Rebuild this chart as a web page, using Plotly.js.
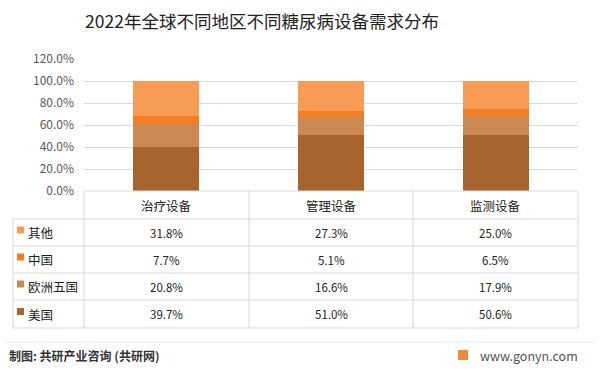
<!DOCTYPE html>
<html>
<head>
<meta charset="utf-8">
<script src="https://cdn.plot.ly/plotly-3.0.1.min.js"></script>
<style>html,body{margin:0;padding:0;background:#fff;}#chart{width:600px;height:374px;}</style>
</head>
<body>
<div id="chart"></div>
<script>
const categories = ['治疗设备', '管理设备', '监测设备'];
const seriesNames = ['美国', '欧洲五国', '中国', '其他'];
const usa = [39.7, 51.0, 50.6];
const europe5 = [20.8, 16.6, 17.9];
const china = [7.7, 5.1, 6.5];
const others = [31.8, 27.3, 25.0];
const seriesValues = [usa, europe5, china, others];
const seriesColors = ['#A8642E', '#CC8A52', '#F47E24', '#F89C55'];
const yTickVals = [0, 0.2, 0.4, 0.6, 0.8, 1.0, 1.2];

const W = 600, H = 374;
const L = 84, R = 578, T = 59, B = 191;
const font = '"Noto Sans CJK SC", "Noto Sans", sans-serif';
const px = x => (x - L) / (R - L);
const py = y => (B - y) / (B - T);

const traces = seriesValues.map((vals, i) => ({
  type: 'bar',
  name: seriesNames[i],
  x: categories,
  y: vals.map(v => v / 100),
  marker: {color: seriesColors[i]},
  width: 0.4,
  hoverinfo: 'skip'
}));

const lineColor = '#D9D9D9';
const shapes = [];
const annotations = [];
function line(x0, y0, x1, y1, color) {
  shapes.push({type: 'line', xref: 'paper', yref: 'paper', x0: px(x0), y0: py(y0), x1: px(x1), y1: py(y1),
    line: {color: color || lineColor, width: 1}});
}
const colEdges = [L, 249, 413, R];
const rowEdges = [191, 219, 246, 273, 300, 328];
const tableLeft = 13;
line(L, rowEdges[0], R, rowEdges[0]);
for (let r = 1; r < rowEdges.length; r++) line(tableLeft, rowEdges[r], R, rowEdges[r]);
line(tableLeft, rowEdges[1], tableLeft, rowEdges[5]);
colEdges.forEach(x => line(x, rowEdges[0], x, rowEdges[5]));

categories.forEach((c, i) => {
  annotations.push({xref: 'paper', yref: 'paper', x: px((colEdges[i] + colEdges[i + 1]) / 2), y: py((rowEdges[0] + rowEdges[1]) / 2),
    text: c, showarrow: false, font: {family: font, size: 12.5, color: '#222'}, xanchor: 'center', yanchor: 'middle'});
});
const rowOrder = [3, 2, 1, 0];
rowOrder.forEach((s, r) => {
  const yc = (rowEdges[r + 1] + rowEdges[r + 2]) / 2;
  shapes.push({type: 'rect', xref: 'paper', yref: 'paper', x0: px(17), x1: px(24), y0: py(yc - 6), y1: py(yc + 1),
    fillcolor: seriesColors[s], line: {width: 0}});
  annotations.push({xref: 'paper', yref: 'paper', x: px(26), y: py(yc), text: seriesNames[s], showarrow: false,
    font: {family: font, size: 12.5, color: '#222'}, xanchor: 'left', yanchor: 'middle'});
  seriesValues[s].forEach((v, i) => {
    annotations.push({xref: 'paper', yref: 'paper', x: px((colEdges[i] + colEdges[i + 1]) / 2), y: py(yc),
      text: v.toFixed(1) + '%', showarrow: false, font: {family: font, size: 11.5, color: '#222'}, xanchor: 'center', yanchor: 'middle'});
  });
});

line(6, 342, 594, 342, '#E6E6E6');
annotations.push({xref: 'paper', yref: 'paper', x: px(7), y: py(355), text: '<b>制图: 共研产业咨询 (共研网)</b>', showarrow: false,
  font: {family: font, size: 12, color: '#333'}, xanchor: 'left', yanchor: 'middle'});
shapes.push({type: 'rect', xref: 'paper', yref: 'paper', x0: px(458), x1: px(468), y0: py(360), y1: py(350),
  fillcolor: '#F08A3C', line: {width: 0}});
annotations.push({xref: 'paper', yref: 'paper', x: px(478), y: py(355), text: 'www.gonyn.com', showarrow: false,
  font: {family: font, size: 12.5, color: '#555'}, xanchor: 'left', yanchor: 'middle'});

const layout = {
  width: W, height: H,
  margin: {l: L, r: W - R, t: T, b: H - B, pad: 0},
  paper_bgcolor: '#fff', plot_bgcolor: '#fff',
  barmode: 'stack',
  showlegend: false,
  title: {text: '2022年全球不同地区不同糖尿病设备需求分布', x: 262 / W, xref: 'container', xanchor: 'center', y: 1 - 22 / H, yanchor: 'middle',
    font: {family: font, size: 17.5, color: '#222'}},
  xaxis: {type: 'category', range: [-0.5, 2.5], showticklabels: false, showgrid: false, zeroline: false, showline: false, ticks: ''},
  yaxis: {range: [0, 1.2], tickvals: yTickVals, tickformat: '.1%', showgrid: true, gridcolor: lineColor, gridwidth: 1,
    zeroline: false, showline: false, ticks: '', ticklen: 0, ticklabelstandoff: 9,
    tickfont: {family: font, size: 12, color: '#595959'}, automargin: false},
  shapes: shapes,
  annotations: annotations
};
Plotly.newPlot('chart', traces, layout, {displayModeBar: false, staticPlot: true});
</script>
</body>
</html>
